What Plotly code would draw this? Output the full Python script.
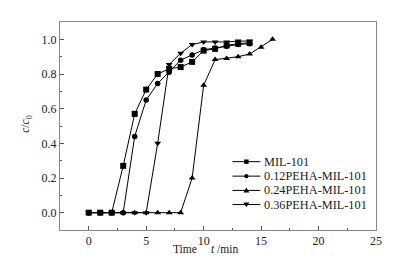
import plotly.graph_objects as go

t_a = [0, 1, 2, 3, 4, 5, 6, 7, 8, 9, 10, 11, 12, 13, 14]
t_b = [0, 1, 2, 3, 4, 5, 6, 7, 8, 9, 10, 11, 12, 13, 14, 15, 16]
mil101 = [0, 0, 0, 0.27, 0.57, 0.71, 0.80, 0.83, 0.84, 0.87, 0.935, 0.945, 0.965, 0.975, 0.98]
p012 = [0, 0, 0, 0, 0.44, 0.65, 0.745, 0.81, 0.88, 0.91, 0.94, 0.95, 0.96, 0.97, 0.975]
p024 = [0, 0, 0, 0, 0, 0, 0, 0, 0, 0.20, 0.735, 0.883, 0.89, 0.90, 0.915, 0.955, 1.0]
p036 = [0, 0, 0, 0, 0, 0, 0.40, 0.855, 0.92, 0.97, 0.985, 0.985, 0.985, 0.99, 0.99]
names = ["MIL-101", "0.12PEHA-MIL-101", "0.24PEHA-MIL-101", "0.36PEHA-MIL-101"]
symbols = ["square", "circle", "triangle-up", "triangle-down"]
xs = [t_a, t_a, t_b, t_a]
ys = [mil101, p012, p024, p036]
x_ticks = [0, 5, 10, 15, 20, 25]
y_ticks = [0.0, 0.2, 0.4, 0.6, 0.8, 1.0]

FONT = "Liberation Serif"
TXT = "#222"
OFF = 8  # default page body margin
W, H = 406 - OFF, 268 - OFF
L, R, T, B = 59.5 - OFF, 30.3, 21.5 - OFF, 38
PW, PH = W - L - R, H - T - B


def px2paper(px, py):
    """page pixel -> paper coords"""
    fx, fy = px - OFF, py - OFF
    return (fx - L) / PW, (H - B - fy) / PH


fig = go.Figure()
for x, y, n, s in zip(xs, ys, names, symbols):
    fig.add_trace(go.Scatter(
        x=x, y=y, name=n, mode="lines+markers",
        line=dict(color="black", width=1),
        marker=dict(symbol=s, size=6 if s != "circle" else 5.5, color="black"),
        showlegend=False,
    ))

fig.update_layout(
    width=W, height=H,
    margin=dict(l=L, r=R, t=T, b=B),
    paper_bgcolor="white", plot_bgcolor="white",
    font=dict(family=FONT, size=12, color=TXT),
    showlegend=False,
)
fig.update_xaxes(
    range=[-2.5, 25], tickvals=x_ticks, ticktext=[str(v) for v in x_ticks],
    ticks="inside", ticklen=4, tickcolor="#555",
    minor=dict(ticks="inside", dtick=2.5, tick0=0, ticklen=2, tickcolor="#555"),
    showline=True, linecolor="#888", linewidth=1, mirror=True,
    showgrid=False, zeroline=False,
    tickfont=dict(family=FONT, size=12, color=TXT),
)
fig.update_yaxes(
    range=[-0.1, 1.1], tickvals=y_ticks, ticktext=["%.1f" % v for v in y_ticks],
    ticks="inside", ticklen=4, tickcolor="#555",
    minor=dict(ticks="inside", dtick=0.1, tick0=0, ticklen=2, tickcolor="#555"),
    showline=True, linecolor="#888", linewidth=1, mirror=True,
    showgrid=False, zeroline=False,
    tickfont=dict(family=FONT, size=12, color=TXT),
)

# axis titles
ax, ay = px2paper(184.7, 249)
fig.add_annotation(x=ax, y=ay, xref="paper", yref="paper", text="Time",
                   showarrow=False, font=dict(family=FONT, size=11.5, color=TXT),
                   xanchor="center", yanchor="middle")
ax, ay = px2paper(224, 249)
fig.add_annotation(x=ax, y=ay, xref="paper", yref="paper", text="<i>t</i> /min",
                   showarrow=False, font=dict(family=FONT, size=11.5, color=TXT),
                   xanchor="center", yanchor="middle")
ax, ay = px2paper(26, 124)
fig.add_annotation(
    x=ax, y=ay, xref="paper", yref="paper",
    text="<i>c</i>/<i>c</i><sub>0</sub>", showarrow=False, textangle=-90,
    font=dict(family=FONT, size=11.5, color=TXT),
    xanchor="center", yanchor="middle",
)

# compact legend (text from the names list)
row_y = [161.5, 176, 190.3, 204.5]
x0, x1, xm, xt = 232, 260, 246, 261.5
sx, sy = 1.0 / PW, 1.0 / PH  # paper units per pixel
for n, s, py in zip(names, symbols, row_y):
    a0, yy = px2paper(x0, py)
    a1, _ = px2paper(x1, py)
    fig.add_shape(type="line", xref="paper", yref="paper", x0=a0, x1=a1, y0=yy, y1=yy,
                  line=dict(color="black", width=1))
    cx, cy = px2paper(xm, py)
    r = 2.2
    if s == "square":
        fig.add_shape(type="rect", xref="paper", yref="paper",
                      x0=cx - r * sx, x1=cx + r * sx, y0=cy - r * sy, y1=cy + r * sy,
                      fillcolor="black", line=dict(width=0))
    elif s == "circle":
        fig.add_shape(type="circle", xref="paper", yref="paper",
                      x0=cx - 2.1 * sx, x1=cx + 2.1 * sx, y0=cy - 2.1 * sy, y1=cy + 2.1 * sy,
                      fillcolor="black", line=dict(width=0))
    else:
        d = 1 if s == "triangle-up" else -1
        path = "M {:.5f},{:.5f} L {:.5f},{:.5f} L {:.5f},{:.5f} Z".format(
            cx, cy + d * 2.8 * sy,
            cx - 2.9 * sx, cy - d * 2.0 * sy,
            cx + 2.9 * sx, cy - d * 2.0 * sy)
        fig.add_shape(type="path", xref="paper", yref="paper", path=path,
                      fillcolor="black", line=dict(width=0))
    tx, ty = px2paper(xt, py)
    fig.add_annotation(x=tx, y=ty, xref="paper", yref="paper", text=n,
                       showarrow=False, xanchor="left", yanchor="middle",
                       font=dict(family=FONT, size=12.3, color=TXT))

fig.write_html("out.html")
